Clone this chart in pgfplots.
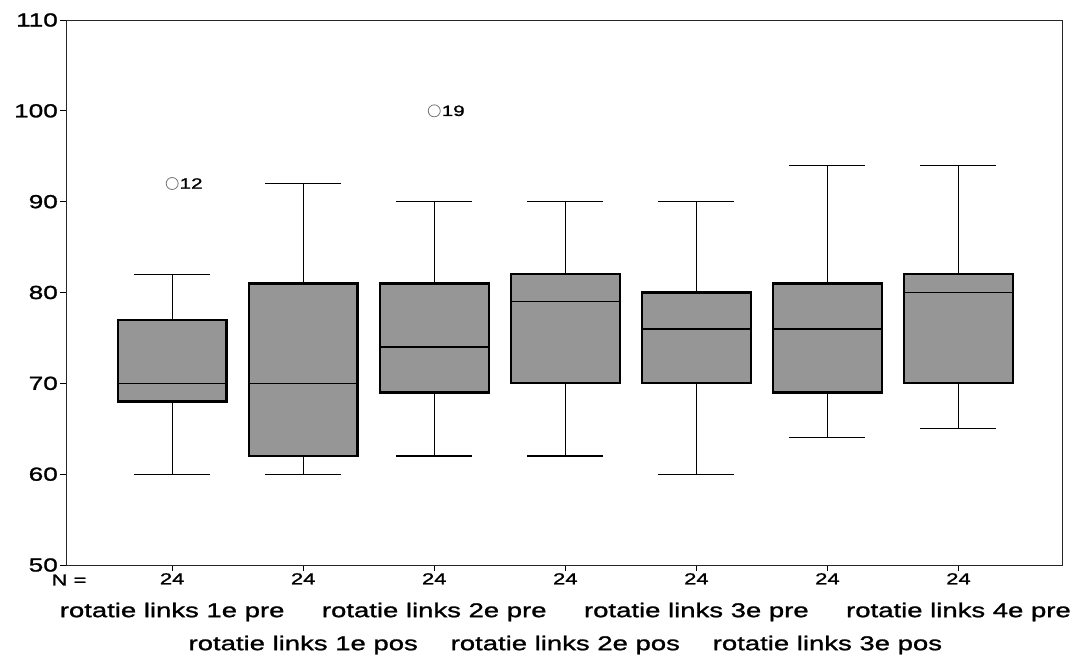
\documentclass[border=0pt]{standalone}
\usepackage{fontspec}
\setmainfont{Liberation Sans}[FakeStretch=1.38, FakeBold=1.3]
\usepackage{pgfplots}
\pgfplotsset{compat=1.18}
\usepgfplotslibrary{statistics}
\definecolor{boxgray}{RGB}{150,150,150}
\pgfplotsset{
  mybox/.style={draw=black, fill=boxgray, solid,
    boxplot/draw direction=y,
    boxplot/box extend=0.83, boxplot/whisker extend=0.58,
    boxplot/every box/.style={line width=2.2bp},
    boxplot/every whisker/.style={line width=1.2bp},
    boxplot/every median/.style={line width=1.5bp},
    mark=o, mark size=6bp, mark options={draw=black!55, line width=0.8bp, fill=none}},
}
\begin{document}
\begin{tikzpicture}
\path[use as bounding box] (-66bp,-92bp) rectangle (1011bp,565bp);
\begin{axis}[
  at={(0,0)}, anchor=south west,
  scale only axis, width=996bp, height=545bp,
  xmin=0.19, xmax=7.79, ymin=50, ymax=110,
  ytick={50,60,...,110},
  xtick={1,...,7}, xticklabels={24,24,24,24,24,24,24},
  xtick pos=bottom, ytick pos=left,
  tick align=outside, major tick length=6bp,
  axis line style={line width=0.9bp, black!85},
  tick style={line width=0.9bp, black},
  /pgf/number format/assume math mode=true,
  yticklabel style={font=\fontsize{19}{22}\selectfont, inner sep=2bp},
  xticklabel style={font=\fontsize{16}{18}\selectfont, inner sep=2bp},
  clip=false,
]
\addplot[mybox, boxplot prepared={draw position=1, lower whisker=60, lower quartile=68, median=70, upper quartile=77, upper whisker=82}] coordinates {(0,92)};
\addplot[mybox, boxplot prepared={draw position=2, lower whisker=60, lower quartile=62, median=70, upper quartile=81, upper whisker=92}] coordinates {};
\addplot[mybox, boxplot prepared={draw position=3, lower whisker=62, lower quartile=69, median=74, upper quartile=81, upper whisker=90}] coordinates {(0,100)};
\addplot[mybox, boxplot prepared={draw position=4, lower whisker=62, lower quartile=70, median=79, upper quartile=82, upper whisker=90}] coordinates {};
\addplot[mybox, boxplot prepared={draw position=5, lower whisker=60, lower quartile=70, median=76, upper quartile=80, upper whisker=90}] coordinates {};
\addplot[mybox, boxplot prepared={draw position=6, lower whisker=64, lower quartile=69, median=76, upper quartile=81, upper whisker=94}] coordinates {};
\addplot[mybox, boxplot prepared={draw position=7, lower whisker=65, lower quartile=70, median=80, upper quartile=82, upper whisker=94}] coordinates {};

\node[anchor=west, font=\fontsize{15}{17}\selectfont] at (axis cs:1,92) [xshift=4bp] {12};
\node[anchor=west, font=\fontsize{15}{17}\selectfont] at (axis cs:3,100) [xshift=4bp] {19};

\node[font=\fontsize{16}{18}\selectfont] at (axis cs:0.19,50) [xshift=3bp, yshift=-15bp] {N =};

\node[font=\fontsize{20}{22}\selectfont] at (axis cs:1,50) [yshift=-47bp] {rotatie links 1e pre};
\node[font=\fontsize{20}{22}\selectfont] at (axis cs:3,50) [yshift=-47bp] {rotatie links 2e pre};
\node[font=\fontsize{20}{22}\selectfont] at (axis cs:5,50) [yshift=-47bp] {rotatie links 3e pre};
\node[font=\fontsize{20}{22}\selectfont] at (axis cs:7,50) [yshift=-47bp] {rotatie links 4e pre};
\node[font=\fontsize{20}{22}\selectfont] at (axis cs:2,50) [yshift=-80bp] {rotatie links 1e pos};
\node[font=\fontsize{20}{22}\selectfont] at (axis cs:4,50) [yshift=-80bp] {rotatie links 2e pos};
\node[font=\fontsize{20}{22}\selectfont] at (axis cs:6,50) [yshift=-80bp] {rotatie links 3e pos};
\end{axis}
\end{tikzpicture}
\end{document}
